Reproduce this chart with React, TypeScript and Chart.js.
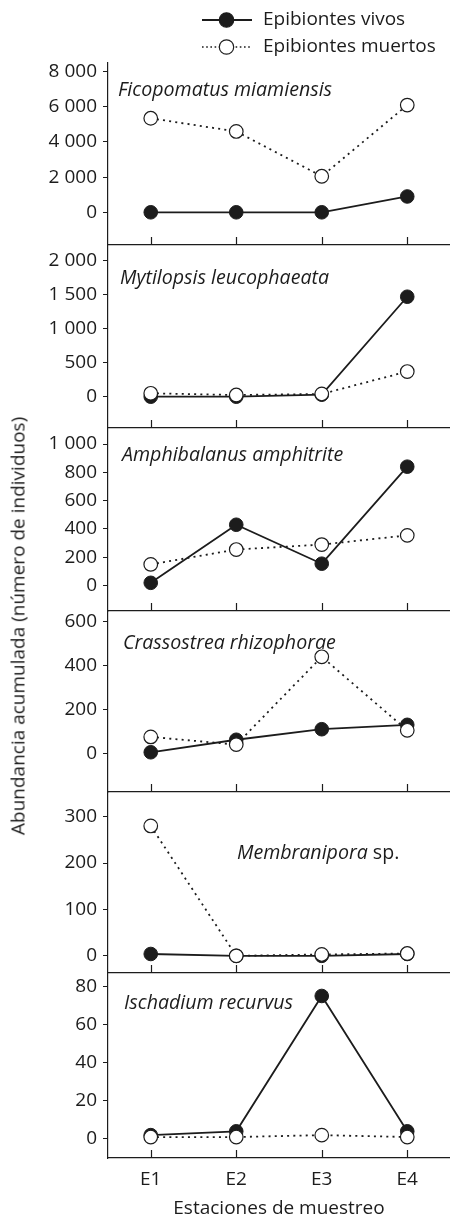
import { useEffect, useRef } from 'react';
import { Chart, registerables } from 'chart.js';

Chart.register(...registerables);

const categories = ['E1', 'E2', 'E3', 'E4'];
const seriesNames = ['Epibiontes vivos', 'Epibiontes muertos'];
const xTitle = 'Estaciones de muestreo';
const yTitle = 'Abundancia acumulada (número de individuos)';

const ficoVivos = [0, 0, 0, 900];
const ficoMuertos = [5350, 4600, 2050, 6100];
const ficoTicks = [0, 2000, 4000, 6000, 8000];

const mytiVivos = [0, 0, 30, 1470];
const mytiMuertos = [50, 25, 40, 370];
const mytiTicks = [0, 500, 1000, 1500, 2000];

const amphVivos = [20, 430, 155, 840];
const amphMuertos = [150, 255, 290, 355];
const amphTicks = [0, 200, 400, 600, 800, 1000];

const crasVivos = [5, 62, 110, 130];
const crasMuertos = [75, 40, 440, 105];
const crasTicks = [0, 200, 400, 600];

const membVivos = [4, 0, 0, 4];
const membMuertos = [280, 0, 3, 5];
const membTicks = [0, 100, 200, 300];

const iscVivos = [2, 4, 75, 4];
const iscMuertos = [1, 1, 2, 1];
const iscTicks = [0, 20, 40, 60, 80];

const FONT = '"Open Sans", "DejaVu Sans", sans-serif';
const INK = '#1c1c1c';
const FS = 19;
const TITLE_FS = 19.6;

Chart.defaults.font.family = FONT;

type Part = { text: string; italic: boolean };
type PanelDef = {
  title: Part[];
  vivos: number[];
  muertos: number[];
  ticks: number[];
  min: number;
  max: number;
  top: number;
  bottom: number;
  titleX: number;
  titleY: number;
  legend?: boolean;
  last?: boolean;
};

const panels: PanelDef[] = [
  { title: [{ text: 'Ficopomatus miamiensis', italic: true }], vivos: ficoVivos, muertos: ficoMuertos, ticks: ficoTicks, min: -1861, max: 8495, top: 63, bottom: 245, titleX: 10, titleY: 27, legend: true },
  { title: [{ text: 'Mytilopsis leucophaeata', italic: true }], vivos: mytiVivos, muertos: mytiMuertos, ticks: mytiTicks, min: -460, max: 2201, top: 247, bottom: 428, titleX: 12, titleY: 31 },
  { title: [{ text: 'Amphibalanus amphitrite', italic: true }], vivos: amphVivos, muertos: amphMuertos, ticks: amphTicks, min: -179, max: 1099, top: 430, bottom: 611, titleX: 14, titleY: 25 },
  { title: [{ text: 'Crassostrea rhizophorae', italic: true }], vivos: crasVivos, muertos: crasMuertos, ticks: crasTicks, min: -176, max: 644, top: 612, bottom: 792, titleX: 15, titleY: 31 },
  { title: [{ text: 'Membranipora', italic: true }, { text: ' sp.', italic: false }], vivos: membVivos, muertos: membMuertos, ticks: membTicks, min: -37, max: 351, top: 793, bottom: 973, titleX: 129, titleY: 60 },
  { title: [{ text: 'Ischadium recurvus', italic: true }], vivos: iscVivos, muertos: iscMuertos, ticks: iscTicks, min: -10, max: 86, top: 975, bottom: 1158, titleX: 16, titleY: 28, last: true },
];

const fmt = (v: number | string) => String(v).replace(/\B(?=(\d{3})+(?!\d))/g, ' ');

function Panel({ def }: { def: PanelDef }) {
  const ref = useRef<HTMLCanvasElement>(null);
  const padTop = def.legend ? def.top : 14;
  const xh = def.last ? 1220 - def.bottom : 4;
  const canvasTop = def.top - padTop;
  const height = def.bottom + xh - canvasTop;

  useEffect(() => {
    const canvas = ref.current;
    if (!canvas) return;
    const decor = {
      id: 'decor',
      beforeDatasetsDraw(chart: any) {
        const ctx = chart.ctx as CanvasRenderingContext2D;
        const { left, top, bottom } = chart.chartArea;
        const xs = chart.scales.x;
        ctx.save();
        ctx.strokeStyle = INK;
        ctx.lineWidth = 1.2;
        categories.forEach((_, i) => {
          const px = Math.round(xs.getPixelForValue(i)) + 0.5;
          ctx.beginPath();
          ctx.moveTo(px, bottom);
          ctx.lineTo(px, bottom - 8);
          ctx.stroke();
        });
        ctx.fillStyle = INK;
        ctx.textBaseline = 'middle';
        ctx.textAlign = 'left';
        let x = left + def.titleX;
        const y = top + def.titleY;
        def.title.forEach((p) => {
          ctx.font = `${p.italic ? 'italic ' : ''}${TITLE_FS}px ${FONT}`;
          ctx.fillText(p.text, x, y);
          x += ctx.measureText(p.text).width;
        });
        if (def.legend) {
          const rows = [20, 47];
          rows.forEach((ry, i) => {
            ctx.save();
            ctx.strokeStyle = INK;
            if (i === 0) {
              ctx.lineWidth = 1.8;
              ctx.setLineDash([]);
            } else {
              ctx.lineWidth = 1.6;
              ctx.setLineDash([1.6, 2.6]);
            }
            ctx.beginPath();
            ctx.moveTo(202, ry);
            ctx.lineTo(252, ry);
            ctx.stroke();
            ctx.setLineDash([]);
            ctx.beginPath();
            ctx.arc(226.5, ry, 7.2, 0, Math.PI * 2);
            ctx.fillStyle = i === 0 ? INK : '#ffffff';
            ctx.fill();
            ctx.lineWidth = 1.2;
            ctx.stroke();
            ctx.restore();
            ctx.fillStyle = INK;
            ctx.font = `${FS}px ${FONT}`;
            ctx.fillText(seriesNames[i], 263, ry);
          });
        }
        ctx.restore();
      },
    };

    const chart = new Chart(canvas, {
      type: 'line',
      data: {
        labels: categories,
        datasets: [
          {
            label: seriesNames[0],
            data: def.vivos,
            order: 1,
            borderColor: INK,
            borderWidth: 1.8,
            pointRadius: 6.8,
            pointBackgroundColor: INK,
            pointBorderColor: INK,
            pointBorderWidth: 1,
            tension: 0,
            clip: false as any,
          },
          {
            label: seriesNames[1],
            data: def.muertos,
            order: 0,
            borderColor: INK,
            borderWidth: 1.8,
            borderDash: [2, 4.2],
            pointRadius: 6.8,
            pointBackgroundColor: '#ffffff',
            pointBorderColor: INK,
            pointBorderWidth: 1.2,
            tension: 0,
            clip: false as any,
          },
        ],
      },
      options: {
        responsive: false,
        animation: false,
        events: [],
        layout: { autoPadding: false, padding: { top: padTop, left: 0, right: 0, bottom: 0 } },
        plugins: { legend: { display: false }, tooltip: { enabled: false } },
        scales: {
          x: {
            type: 'category',
            offset: true,
            grid: { display: false, drawTicks: false },
            border: { display: true, color: INK, width: 1.2 },
            ticks: { display: !!def.last, color: INK, font: { family: FONT, size: FS }, padding: 10 },
            title: { display: !!def.last, text: xTitle, color: INK, font: { family: FONT, size: FS }, padding: { top: 0, bottom: 0 } },
            afterFit: (s: any) => {
              s.height = xh;
              s.paddingLeft = 0;
              s.paddingRight = 0;
            },
          },
          y: {
            min: def.min,
            max: def.max,
            afterBuildTicks: (s: any) => {
              s.ticks = def.ticks.map((v) => ({ value: v }));
            },
            ticks: { callback: (v: any) => fmt(v), color: INK, font: { family: FONT, size: FS }, padding: 6 },
            grid: { display: true, drawOnChartArea: false, drawTicks: true, tickLength: 5, color: INK, lineWidth: 1 },
            border: { display: true, color: INK, width: 1.2 },
            afterFit: (s: any) => {
              s.width = 108;
              s.paddingTop = 0;
              s.paddingBottom = 0;
            },
          },
        },
      } as any,
      plugins: [decor],
    });
    return () => chart.destroy();
  }, []);

  return (
    <canvas
      ref={ref}
      width={450}
      height={height}
      style={{ position: 'absolute', left: 0, top: canvasTop, width: 450, height, display: 'block' }}
    />
  );
}

export default function App() {
  return (
    <div style={{ position: 'absolute', left: 0, top: 0, width: 450, height: 1220, background: '#ffffff', overflow: 'hidden' }}>
      {panels.map((p, i) => (
        <Panel key={i} def={p} />
      ))}
      <div
        style={{
          position: 'absolute',
          left: 18,
          top: 626,
          transform: 'translate(-50%, -50%) rotate(-90deg)',
          whiteSpace: 'nowrap',
          fontFamily: FONT,
          fontSize: FS,
          color: INK,
          lineHeight: 1,
        }}
      >
        {yTitle}
      </div>
    </div>
  );
}
